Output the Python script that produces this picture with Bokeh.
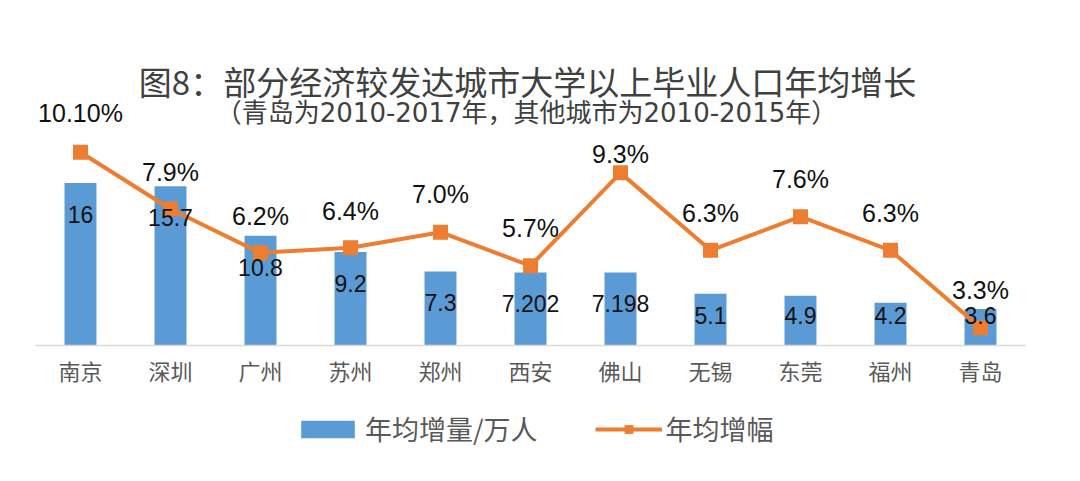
from bokeh.plotting import figure
from bokeh.layouts import column
from bokeh.models import Range1d, FactorRange, Legend, LegendItem, Label, ColumnDataSource
from bokeh.core.properties import value
from bokeh.embed import file_html
from bokeh.resources import INLINE
import numpy as np

# ---- data ----
cities = ["南京", "深圳", "广州", "苏州", "郑州", "西安", "佛山", "无锡", "东莞", "福州", "青岛"]
increase = [16, 15.7, 10.8, 9.2, 7.3, 7.202, 7.198, 5.1, 4.9, 4.2, 3.6]
growth = [10.1, 7.9, 6.2, 6.4, 7.0, 5.7, 9.3, 6.3, 7.6, 6.3, 3.3]
growth_labels = ["10.10%", "7.9%", "6.2%", "6.4%", "7.0%", "5.7%", "9.3%", "6.3%", "7.6%", "6.3%", "3.3%"]
title_text = "图8：部分经济较发达城市大学以上毕业人口年均增长"
subtitle_text = "（青岛为2010-2017年，其他城市为2010-2015年）"
bar_name = "年均增量/万人"
line_name = "年均增幅"

# ---- styling / layout ----
BLUE = "#5B9BD5"
ORANGE = "#ED7D31"
CJK = "Noto Sans CJK SC"
MIX = "DejaVu Sans, Noto Sans CJK SC"
NUM = "Liberation Sans"
pct_label_offsets = [-39, -37, -37, -37, -38, -38, -19, -37, -38, -37, -38]

xr = FactorRange(*cities, range_padding=0)
yr = Range1d(0, 33.2)
pr = Range1d(2.61, 15.67)

p = figure(x_range=xr, y_range=yr,
           frame_width=990, frame_height=337, output_backend="svg", toolbar_location=None,
           y_axis_location=None, min_border_left=35, min_border_right=47,
           min_border_top=8, min_border_bottom=55, outline_line_color=None)
p.extra_y_ranges = {"pct": pr}
p.xgrid.visible = False
p.ygrid.visible = False

ax = p.xaxis[0]
ax.axis_line_color = "#D9D9D9"
ax.axis_line_width = 1.5
ax.major_tick_line_color = None
ax.minor_tick_line_color = None
ax.major_tick_out = 0
ax.major_tick_in = 0
ax.major_label_text_font = CJK
ax.major_label_text_font_size = "22px"
ax.major_label_text_color = "#595959"
ax.major_label_standoff = 8

src = ColumnDataSource(dict(
    city=cities, inc=increase, gr=growth, gl=growth_labels,
    il=[f"{v:g}" for v in increase],
    ily=[float(v) for v in np.maximum(np.array(increase) - 3.1, 3.0)],
    off=pct_label_offsets,
))

bar_style = dict(width=0.355, fill_color=BLUE, line_color=None)
line_style = dict(line_color=ORANGE, line_width=4)
mark_style = dict(marker="square", size=15, fill_color=ORANGE, line_color=None)

p.vbar(x="city", top="inc", source=src, **bar_style)
p.line(x="city", y="gr", source=src, y_range_name="pct", **line_style)
p.scatter(x="city", y="gr", source=src, y_range_name="pct", **mark_style)

p.text(x="city", y="ily", text="il", source=src, text_align="center", text_baseline="middle",
       text_font=value(NUM), text_font_size="23px", text_color="#111111")
p.text(x="city", y="gr", text="gl", source=src, y_range_name="pct", y_offset="off",
       text_align="center", text_baseline="middle",
       text_font=value(NUM), text_font_size="25px", text_color="#111111")

p.add_layout(Label(x=492, y=265, x_units="screen", y_units="screen", text=title_text,
                   text_align="center", text_baseline="middle", text_font=CJK,
                   text_font_size="33px", text_color="#404040"))
p.add_layout(Label(x=491, y=233, x_units="screen", y_units="screen", text=subtitle_text,
                   text_align="center", text_baseline="middle", text_font=MIX,
                   text_font_size="26px", text_color="#404040"))

# ---- legend strip (separate figure below the chart, same series hidden) ----
p2 = figure(width=1072, height=70, x_range=xr, y_range=yr,
            output_backend="svg", toolbar_location=None, min_border=0,
            min_border_left=0, min_border_right=0, min_border_top=0, min_border_bottom=0,
            x_axis_location=None, y_axis_location=None, outline_line_color=None)
p2.extra_y_ranges = {"pct": pr}
p2.xgrid.visible = False
p2.ygrid.visible = False
lb = p2.vbar(x="city", top="inc", source=src, visible=False, **bar_style)
ll = p2.line(x="city", y="gr", source=src, y_range_name="pct", visible=False, **line_style)
lm = p2.scatter(x="city", y="gr", source=src, y_range_name="pct", visible=False, **mark_style)

legend = Legend(items=[LegendItem(label=bar_name, renderers=[lb]),
                       LegendItem(label=line_name, renderers=[ll, lm])],
                orientation="horizontal", location=(259, 22),
                label_text_font=CJK, label_text_font_size="27px", label_text_color="#595959",
                glyph_width=67, glyph_height=22, spacing=57, label_standoff=4,
                inactive_fill_alpha=0, click_policy="none",
                border_line_color=None, background_fill_alpha=0, margin=0, padding=0)
p2.add_layout(legend, "center")

open("out.html", "w").write(file_html(column(p, p2, spacing=0), INLINE))
